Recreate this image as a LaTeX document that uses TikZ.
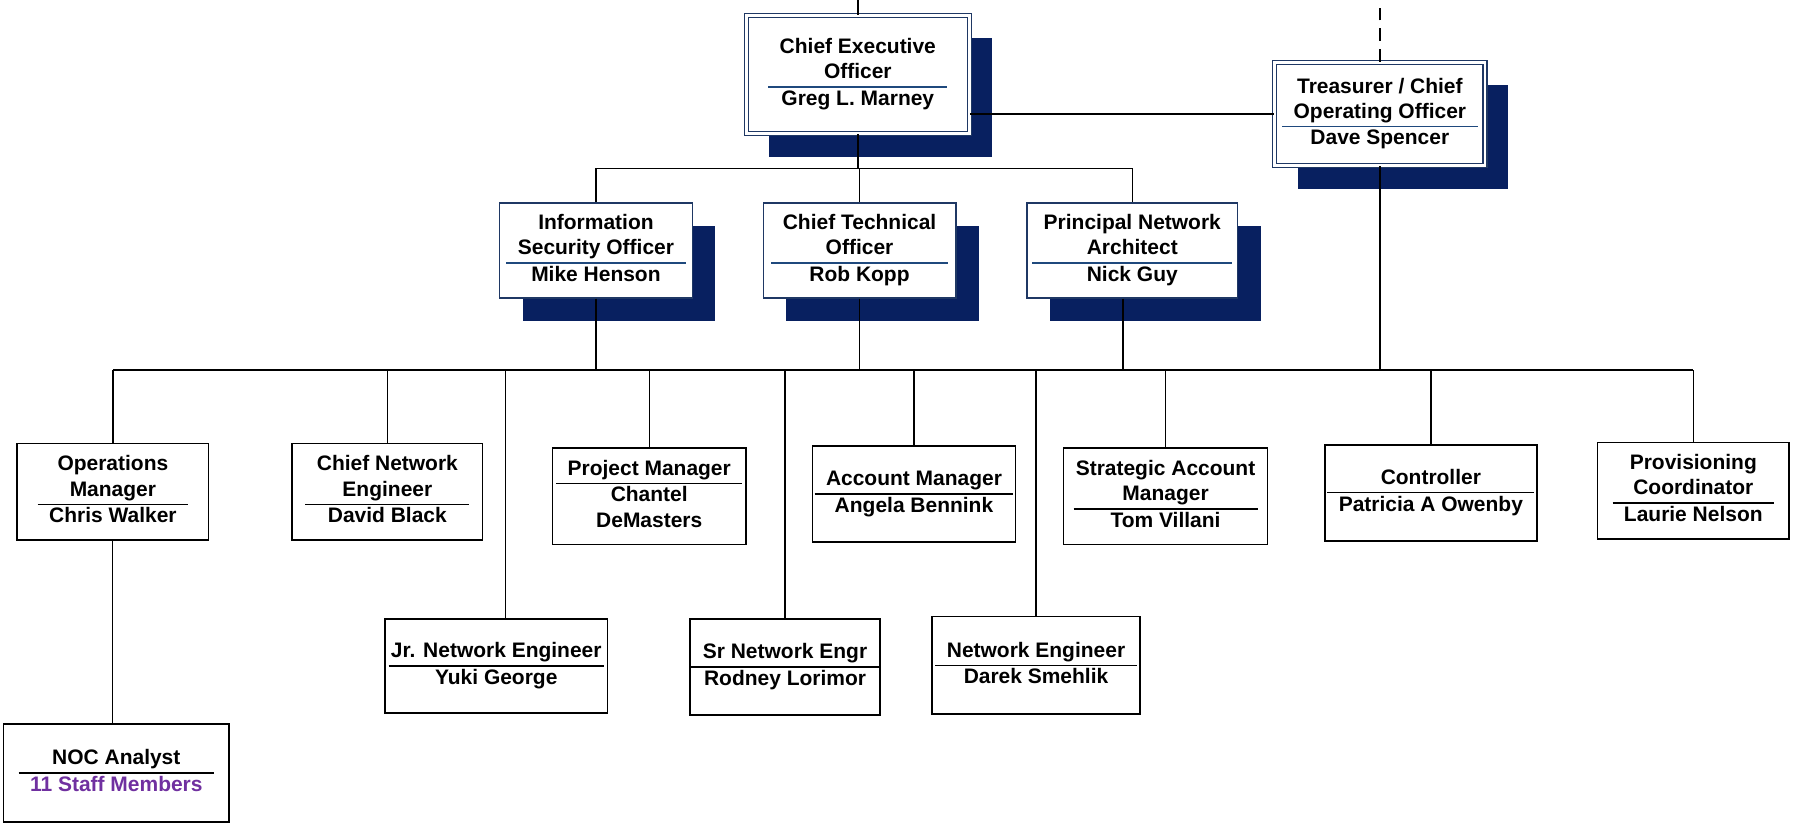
\documentclass[tikz,border=0pt]{standalone}
\usepackage{fontspec}
\setmainfont{Liberation Sans}
\usepackage{colortbl}
\usetikzlibrary{shadows}
\definecolor{navy}{RGB}{8,32,96}
\definecolor{topborder}{RGB}{31,56,100}
\definecolor{titleline}{RGB}{31,73,125}
\definecolor{staff}{RGB}{112,48,160}
\newcommand\cardtext[3]{\arrayrulecolor{#1}\setlength\arrayrulewidth{1.2pt}\setlength\tabcolsep{10pt}\begin{tabular}{c}#2\\\hline #3\end{tabular}}
\newcommand\cardtextnarrow[3]{\arrayrulecolor{#1}\setlength\arrayrulewidth{1.2pt}\setlength\tabcolsep{2pt}\begin{tabular}{c}#2\\\hline #3\end{tabular}}
\tikzset{
  cardfont/.style={font=\fontsize{18.3}{22}\selectfont\bfseries},
  lowbox/.style={cardfont, draw=black, line width=1.5pt, fill=white, inner sep=0pt},
  topbox/.style={cardfont, draw=topborder, line width=1.2pt, fill=white, inner sep=0pt,
     general shadow={fill=navy, shadow xshift=20pt, shadow yshift=-20pt}},
  dblbox/.style={topbox, double=white, double distance=2.5pt, line width=1pt},
  conn/.style={draw=black, line width=1.2pt},
  dashconn/.style={conn, dash pattern=on 11pt off 7pt}
}
\begin{document}
\begin{tikzpicture}[x=1pt,y=-1pt]
\useasboundingbox (0,0) rectangle (1568,720);
\coordinate (top) at (0,0);
\coordinate (busA) at (0,147);
\coordinate (bus) at (0,323);

% level 1
\node[dblbox, minimum width=194.5pt, minimum height=103.5pt] (ceo) at (748.5,65)
  {\cardtext{titleline}{Chief Executive\\Officer}{Greg L. Marney}};
\node[dblbox, minimum width=183.5pt, minimum height=90.5pt] (tre) at (1204,99.5)
  {\cardtext{titleline}{Treasurer / Chief\\Operating Officer}{Dave Spencer}};

% level 2
\node[topbox, minimum width=168pt, minimum height=83pt] (iso) at (520,218.5)
  {\cardtext{titleline}{Information\\Security Officer}{Mike Henson}};
\node[topbox, minimum width=168pt, minimum height=83pt] (cto) at (750,218.5)
  {\cardtext{titleline}{Chief Technical\\Officer}{Rob Kopp}};
\node[topbox, minimum width=184pt, minimum height=83pt] (pna) at (988,218.5)
  {\cardtext{titleline}{Principal Network\\Architect}{Nick Guy}};

% level 3
\node[lowbox, minimum width=167pt, minimum height=84pt] (ops) at (98.5,429)
  {\cardtext{black}{Operations\\Manager}{Chris Walker}};
\node[lowbox, minimum width=166pt, minimum height=84pt] (cne) at (338,429)
  {\cardtext{black}{Chief Network\\Engineer}{David Black}};
\node[lowbox, minimum width=169pt, minimum height=84pt] (pm) at (566.5,433)
  {\cardtext{black}{Project Manager}{Chantel\\DeMasters}};
\node[lowbox, minimum width=177pt, minimum height=84pt] (am) at (797.5,431)
  {\cardtext{black}{Account Manager}{Angela Bennink}};
\node[lowbox, minimum width=178pt, minimum height=84pt] (sam) at (1017,433)
  {\cardtextnarrow{black}{Strategic Account\\Manager}{Tom Villani}};
\node[lowbox, minimum width=185pt, minimum height=84pt] (ctrl) at (1248.5,430)
  {\cardtext{black}{Controller}{Patricia A Owenby}};
\node[lowbox, minimum width=167pt, minimum height=84pt] (prov) at (1477.5,428)
  {\cardtext{black}{Provisioning\\Coordinator}{Laurie Nelson}};

% level 4
\node[lowbox, minimum width=194pt, minimum height=82pt] (jr) at (433,581)
  {\cardtextnarrow{black}{Jr. Network Engineer}{Yuki George}};
\node[lowbox, minimum width=166pt, minimum height=84pt] (sr) at (685,582)
  {\cardtext{black}{Sr Network Engr}{Rodney Lorimor}};
\node[lowbox, minimum width=182pt, minimum height=85pt] (ne) at (904,580.5)
  {\cardtext{black}{Network Engineer}{Darek Smehlik}};
\node[lowbox, minimum width=197pt, minimum height=85pt] (noc) at (101.5,674.5)
  {\cardtext{black}{NOC Analyst}{\textcolor{staff}{11 Staff Members}}};

% connectors
\coordinate (jrtop) at ([xshift=8pt]jr.north);
\coordinate (pnabot) at ([xshift=-8pt]pna.south);
\coordinate (opsbot) at ([xshift=-0.5pt]ops.south);

\draw[conn] (ceo.north) -- (ceo.north |- top);
\draw[dashconn] (tre.north) -- (tre.north |- top);
\draw[conn] (ceo.east |- tre.west) -- (tre.west);
\draw[conn] (ceo.south) -- (ceo.south |- busA);
\draw[conn] (iso.north) -- (iso.north |- busA) -- (pna.north |- busA) -- (pna.north);
\draw[conn] (cto.north) -- (cto.north |- busA);

\draw[conn] (iso.south) -- (iso.south |- bus);
\draw[conn] (cto.south) -- (cto.south |- bus);
\draw[conn] (pnabot) -- (pnabot |- bus);
\draw[conn] (tre.south) -- (tre.south |- bus);

\draw[conn] (ops.north |- bus) -- (prov.north |- bus);
\draw[conn] (ops.north |- bus) -- (ops.north);
\draw[conn] (cne.north |- bus) -- (cne.north);
\draw[conn] (jrtop |- bus) -- (jrtop);
\draw[conn] (pm.north |- bus) -- (pm.north);
\draw[conn] (sr.north |- bus) -- (sr.north);
\draw[conn] (am.north |- bus) -- (am.north);
\draw[conn] (ne.north |- bus) -- (ne.north);
\draw[conn] (sam.north |- bus) -- (sam.north);
\draw[conn] (ctrl.north |- bus) -- (ctrl.north);
\draw[conn] (prov.north |- bus) -- (prov.north);

\draw[conn] (opsbot) -- (opsbot |- noc.north);
\end{tikzpicture}
\end{document}
